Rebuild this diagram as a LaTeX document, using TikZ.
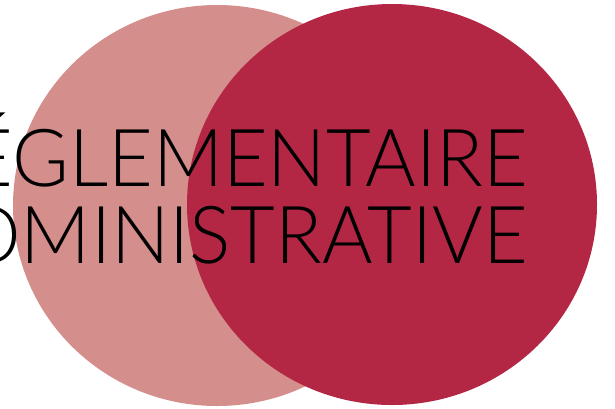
\documentclass[tikz,border=0pt]{standalone}
\usepackage{fontspec}
\newfontfamily\titlefont{Lato Light}[FakeStretch=0.965]
\definecolor{rosepale}{HTML}{D48E8B}
\definecolor{crimson}{HTML}{B32744}
\begin{document}
\begin{tikzpicture}[x=1pt,y=-1pt,
  disc/.style={fill=#1, draw=none},
  word/.style={anchor=base east, inner sep=0pt, font=\titlefont\fontsize{80}{80}\selectfont, text=black}]
\useasboundingbox (0,0) rectangle (615,408);
\clip (0,0) rectangle (615,408);
\fill[disc=rosepale] (217,205.5) ellipse [x radius=204, y radius=200.5];
\fill[disc=crimson] (392,204.5) ellipse [x radius=205, y radius=200.5];
\node[word] (l1) at (528,186) {RÉGLEMENTAIRE};
\node[word] (l2) at (528,263) {ADMINISTRATIVE};
\end{tikzpicture}
\end{document}
